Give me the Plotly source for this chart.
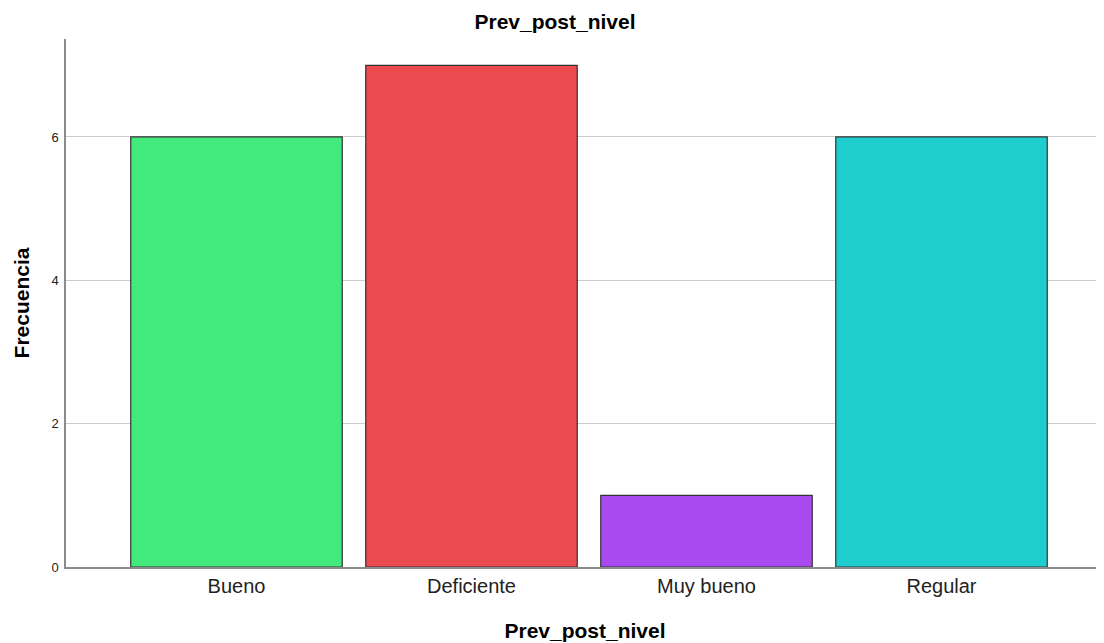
import plotly.graph_objects as go

categories = ["Bueno", "Deficiente", "Muy bueno", "Regular"]
frecuencia = [6, 7, 1, 6]
colors = ["#42E97C", "#EB4A4E", "#A94AF0", "#1ECECE"]
y_ticks = [0, 2, 4, 6]

fig = go.Figure(go.Bar(
    x=categories,
    y=frecuencia,
    width=0.9,
    marker=dict(color=colors, line=dict(color="#333333", width=1.2)),
))

fig.update_layout(
    width=1096, height=635,
    margin=dict(l=58, r=0, t=31, b=76),
    paper_bgcolor="white", plot_bgcolor="white",
    font=dict(family="Liberation Sans, Arial, sans-serif", color="#000000"),
    title=dict(text="<b>Prev_post_nivel</b>", x=(555 - 8) / 1096, xanchor="center",
               y=1 - 14 / 635, yanchor="middle",
               font=dict(size=21, color="#000000")),
    showlegend=False,
)
fig.update_xaxes(
    range=[-0.7255, 3.6915],
    showline=True, linecolor="#8c8c8c", linewidth=1.5,
    showgrid=False, ticks="",
    tickfont=dict(size=20, color="#222222"),
    title=dict(text="<b>Prev_post_nivel</b>", font=dict(size=21, color="#000000"), standoff=28),
)
fig.update_yaxes(
    range=[0, 7.367],
    tickvals=y_ticks,
    showline=True, linecolor="#8c8c8c", linewidth=1.5,
    showgrid=True, gridcolor="#cccccc", gridwidth=1.2,
    zeroline=False, ticks="",
    ticklabelstandoff=3,
    tickfont=dict(size=13, color="#222222"),
    title=dict(text="<b>Frecuencia</b>", font=dict(size=21, color="#000000"), standoff=16),
)

fig.write_html("out.html")
